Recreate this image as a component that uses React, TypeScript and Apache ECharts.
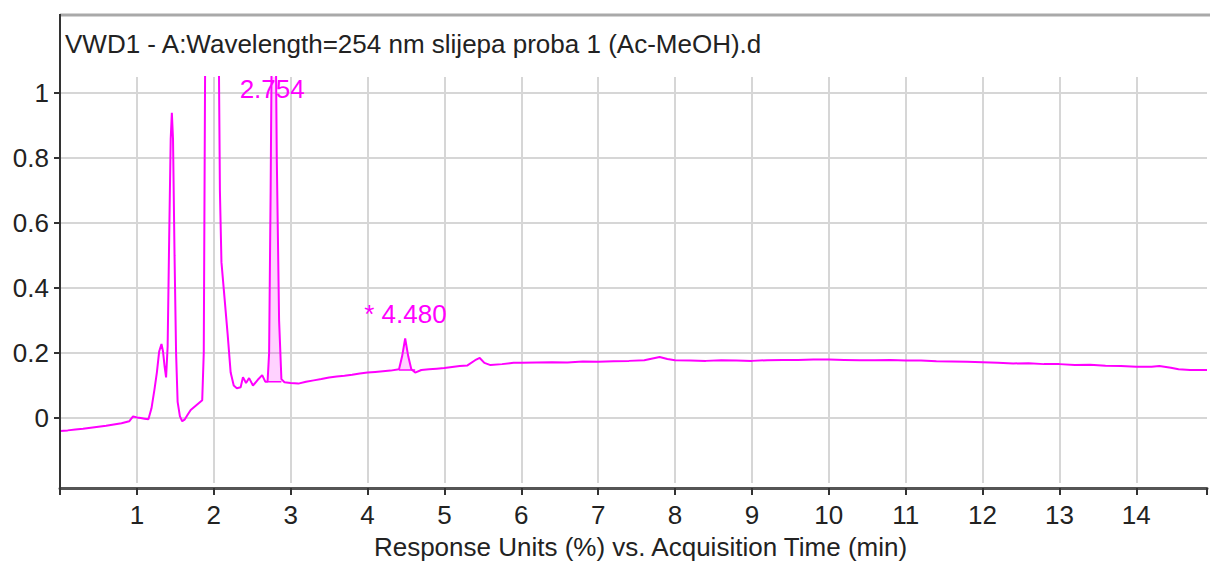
import React, { useEffect, useRef } from "react";
import * as echarts from "echarts";

// Acquisition time (min)
const TIMES = [
  0.0, 0.1, 0.2, 0.3, 0.4, 0.5, 0.6, 0.7, 0.8, 0.9, 0.95, 1.0, 1.05, 1.1, 1.15,
  1.19, 1.23, 1.26, 1.29, 1.32, 1.34, 1.36, 1.38, 1.4, 1.42, 1.44, 1.455, 1.47,
  1.49, 1.51, 1.53, 1.56, 1.59, 1.62, 1.66, 1.7, 1.75, 1.8, 1.85, 1.87, 1.89,
  1.92, 1.98, 2.04, 2.06, 2.08, 2.1, 2.14, 2.18, 2.22, 2.26, 2.3, 2.35, 2.38,
  2.42, 2.46, 2.51, 2.57, 2.63, 2.67, 2.7, 2.72, 2.74, 2.76, 2.78, 2.8, 2.82,
  2.85, 2.88, 2.92, 3.0, 3.1, 3.2, 3.3, 3.4, 3.5, 3.6, 3.7, 3.8, 3.9, 4.0, 4.1,
  4.2, 4.3, 4.41, 4.45, 4.49, 4.53, 4.57, 4.62, 4.7, 4.8, 4.9, 5.0, 5.1, 5.2,
  5.3, 5.4, 5.46, 5.52, 5.6, 5.75, 5.9, 6.0, 6.2, 6.4, 6.6, 6.8, 7.0, 7.2, 7.4,
  7.6, 7.8, 7.9, 8.0, 8.2, 8.4, 8.6, 8.8, 9.0, 9.2, 9.4, 9.6, 9.8, 10.0, 10.2,
  10.4, 10.6, 10.8, 11.0, 11.2, 11.4, 11.6, 11.8, 12.0, 12.2, 12.4, 12.6, 12.8,
  13.0, 13.2, 13.4, 13.6, 13.8, 14.0, 14.2, 14.3, 14.45, 14.55, 14.7, 14.92,
];

// Response units (%)
const RESPONSE = [
  -0.04, -0.038, -0.035, -0.033, -0.03, -0.027, -0.024, -0.02, -0.016, -0.01,
  0.005, 0.002, 0.0, -0.002, -0.004, 0.03, 0.09, 0.14, 0.205, 0.228, 0.205,
  0.16, 0.125, 0.22, 0.55, 0.86, 0.94, 0.86, 0.5, 0.2, 0.05, 0.005, -0.01,
  -0.005, 0.01, 0.025, 0.035, 0.045, 0.055, 0.2, 1.2, 3.0, 4.0, 3.0, 1.3, 0.7,
  0.48, 0.37, 0.26, 0.14, 0.1, 0.092, 0.095, 0.126, 0.108, 0.123, 0.1, 0.117,
  0.132, 0.112, 0.112, 0.2, 0.7, 1.35, 1.5, 1.35, 0.8, 0.3, 0.12, 0.11, 0.108,
  0.106, 0.112, 0.116, 0.12, 0.125, 0.128, 0.13, 0.133, 0.137, 0.14, 0.142,
  0.144, 0.146, 0.15, 0.19, 0.245, 0.19, 0.15, 0.14, 0.148, 0.15, 0.152, 0.154,
  0.157, 0.16, 0.162, 0.178, 0.185, 0.17, 0.163, 0.166, 0.17, 0.17, 0.171,
  0.172, 0.171, 0.174, 0.173, 0.175, 0.176, 0.178, 0.188, 0.182, 0.178, 0.177,
  0.176, 0.178, 0.177, 0.176, 0.178, 0.179, 0.179, 0.18, 0.18, 0.179, 0.178,
  0.178, 0.179, 0.177, 0.177, 0.175, 0.174, 0.173, 0.172, 0.17, 0.168, 0.169,
  0.166, 0.166, 0.163, 0.164, 0.161, 0.16, 0.158, 0.158, 0.16, 0.155, 0.15,
  0.148, 0.148,
];

// Integrated peaks
const PEAK_RT = [2.754, 4.48];
const PEAK_TEXT = ["2.754", "* 4.480"];
const PEAK_LABEL_X = [2.76, 4.494];
const PEAK_LABEL_Y = [1.012, 0.32];
const PEAK_START = [2.7, 4.41];
const PEAK_END = [2.88, 4.62];
const PEAK_BASE = [0.112, 0.148];

const X_RANGE = [0, 14.92];
const Y_RANGE = [-0.2, 1.05];
const X_TICKS = [1, 2, 3, 4, 5, 6, 7, 8, 9, 10, 11, 12, 13, 14];
const Y_TICKS = [0, 0.2, 0.4, 0.6, 0.8, 1];

const TITLE = "VWD1 - A:Wavelength=254 nm slijepa proba 1 (Ac-MeOH).d";
const X_NAME = "Response Units (%) vs. Acquisition Time (min)";

const FONT = "'Liberation Sans', Arial, Helvetica, sans-serif";
const MAGENTA = "#ff00ff";
const GRID_GRAY = "#d6d6d6";

export default function App() {
  const ref = useRef<HTMLDivElement>(null);

  useEffect(() => {
    if (!ref.current) return;
    const chart = echarts.init(ref.current, undefined, { renderer: "svg" });

    const mainData = TIMES.map((t, i) => [t, RESPONSE[i]]);

    const peakSeries: any[] = [];
    PEAK_RT.forEach((rt, k) => {
      const pts = TIMES.map((t, i) => [t, RESPONSE[i]]).filter(
        (p) => p[0] >= PEAK_START[k] - 1e-9 && p[0] <= PEAK_END[k] + 1e-9
      );
      peakSeries.push({
        type: "line",
        name: "peak" + rt,
        data: pts,
        symbol: "none",
        lineStyle: { width: 0 },
        areaStyle: { color: "rgba(255,0,255,0.25)", origin: PEAK_BASE[k] },
        z: 2,
        silent: true,
      });
      peakSeries.push({
        type: "line",
        name: "base" + rt,
        data: [
          [PEAK_START[k], PEAK_BASE[k]],
          [PEAK_END[k], PEAK_BASE[k]],
        ],
        symbol: "none",
        lineStyle: { width: 1.5, color: MAGENTA },
        z: 3,
        silent: true,
      });
    });

    const xt = new Set(X_TICKS);

    chart.setOption({
      animation: false,
      backgroundColor: "#ffffff",
      textStyle: { fontFamily: FONT },
      title: {
        text: TITLE,
        left: 60,
        top: 26,
        textStyle: {
          fontSize: 26,
          fontWeight: "normal",
          color: "#222",
          fontFamily: FONT,
        },
      },
      grid: { left: 60, right: 0, top: 77, bottom: 82, containLabel: false },
      xAxis: {
        type: "value",
        min: X_RANGE[0],
        max: X_RANGE[1],
        interval: 1,
        offset: 5,
        name: X_NAME,
        nameLocation: "middle",
        nameGap: 46,
        nameTextStyle: {
          fontSize: 26,
          color: "#222",
          fontFamily: FONT,
          padding: [0, 0, 0, 14],
        },
        axisLine: {
          show: true,
          onZero: false,
          lineStyle: { color: "#555", width: 3 },
        },
        axisTick: {
          show: true,
          length: 7,
          lineStyle: { color: "#333", width: 2 },
        },
        axisLabel: {
          fontSize: 26,
          color: "#222",
          margin: 14,
          fontFamily: FONT,
          formatter: (v: number) =>
            xt.has(Math.round(v * 1000) / 1000) ? String(v) : "",
        },
        splitLine: {
          show: true,
          showMinLine: false,
          showMaxLine: false,
          lineStyle: { color: GRID_GRAY, width: 2 },
        },
      },
      yAxis: {
        type: "value",
        min: Y_RANGE[0],
        max: Y_RANGE[1],
        interval: 0.2,
        axisLine: { show: false },
        axisTick: {
          show: true,
          length: 6,
          customValues: Y_TICKS,
          lineStyle: { color: "#333", width: 2 },
        },
        axisLabel: {
          fontSize: 26,
          color: "#222",
          margin: 11,
          fontFamily: FONT,
          customValues: Y_TICKS,
          formatter: (v: number) => {
            const r = Math.round(v * 10) / 10;
            if (r < 0 || r > 1) return "";
            return r === 0 ? "0" : String(r);
          },
        },
        splitLine: {
          show: true,
          showMinLine: true,
          showMaxLine: true,
          lineStyle: { color: GRID_GRAY, width: 2 },
        },
      },
      graphic: [
        {
          type: "line",
          shape: { x1: 60, y1: 15, x2: 1210, y2: 15 },
          style: { stroke: "#a9a9a9", lineWidth: 3 },
          z: 10,
        },
        {
          type: "line",
          shape: { x1: 60, y1: 14, x2: 60, y2: 489 },
          style: { stroke: "#333", lineWidth: 2 },
          z: 10,
        },
      ],
      series: [
        {
          type: "line",
          name: "zero line",
          data: [
            [X_RANGE[0], Y_TICKS[0]],
            [X_RANGE[1], Y_TICKS[0]],
          ],
          symbol: "none",
          silent: true,
          lineStyle: { color: GRID_GRAY, width: 2 },
          z: 1,
        },
        ...peakSeries,
        {
          type: "line",
          name: "VWD1",
          data: mainData,
          symbol: "none",
          clip: true,
          lineStyle: { color: MAGENTA, width: 2 },
          z: 4,
          markPoint: {
            symbol: "circle",
            symbolSize: 0,
            silent: true,
            label: {
              show: true,
              position: "inside",
              color: MAGENTA,
              fontSize: 26,
              fontFamily: FONT,
            },
            data: PEAK_TEXT.map((txt, k) => ({
              coord: [PEAK_LABEL_X[k], PEAK_LABEL_Y[k]],
              value: txt,
              label: { formatter: txt },
            })),
          },
        },
      ],
    });

    return () => chart.dispose();
  }, []);

  return (
    <div
      ref={ref}
      style={{
        position: "fixed",
        left: 0,
        top: 0,
        width: 1210,
        height: 565,
        background: "#fff",
      }}
    />
  );
}
